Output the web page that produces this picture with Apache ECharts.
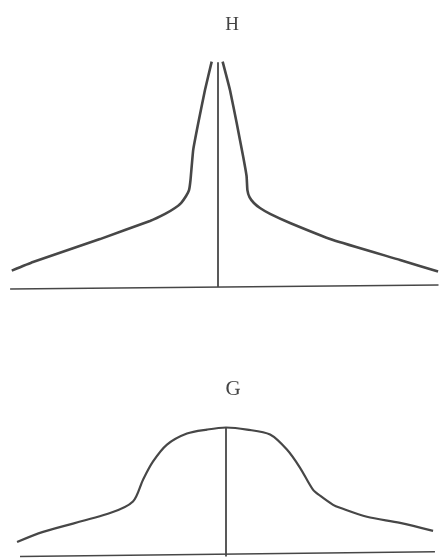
<!DOCTYPE html>
<html>
<head>
<meta charset="utf-8">
<script src="https://cdn.jsdelivr.net/npm/echarts@6/dist/echarts.min.js"></script>
<style>html,body{margin:0;padding:0;background:#fff;}#c{width:440px;height:558px;}</style>
</head>
<body>
<div id="c"></div>
<script>
// Panel titles
var panelLabels = ['H', 'G'];

// Panel H: profile (offset, intensity), left and right wings
var hLeft = [[-9.82,7.2],[-8.81,11.0],[-5.62,21.1],[-3.24,29.1],[-2.52,32.2],[-2.05,34.8],[-1.76,37.0],[-1.52,40.1],[-1.38,42.7],[-1.31,47.1],[-1.18,60.4],[-0.94,72.2],[-0.62,86.8],[-0.30,99.3]];
var hRight = [[0.22,99.3],[0.57,86.8],[0.89,72.2],[1.20,57.4],[1.36,48.9],[1.40,42.7],[1.50,39.6],[1.71,37.0],[2.0,34.8],[2.48,32.2],[3.43,28.2],[5.48,20.7],[8.67,11.9],[10.48,6.8]];
var hBase = [[-9.9,-0.9],[10.5,0.9]];
var hCenter = [[0,0],[0,99]];

// Panel G: profile
var gCurve = [[-9.95,11.3],[-8.71,19.2],[-5.52,33.8],[-4.43,42.8],[-3.95,59.8],[-3.48,73.8],[-2.81,87.1],[-1.86,95.7],[-0.90,98.8],[0,100.4],[1.0,98.8],[2.10,94.9],[2.90,83.2],[3.52,69.2],[4.14,52.0],[4.48,47.3],[5.1,40.2],[5.43,37.9],[6.71,30.9],[8.29,26.2],[9.86,19.9]];
var gBase = [[-9.81,0],[9.95,3.7]];
var gCenter = [[0,0],[0,100]];

var lineCol = '#474747';
function ln(data, xi, w, smooth) {
  return {type:'line', xAxisIndex:xi, yAxisIndex:xi, data:data, showSymbol:false, symbol:'none',
    smooth:smooth, clip:false, silent:true, lineStyle:{color:lineCol, width:w}};
}

var chart = echarts.init(document.getElementById('c'), null, {renderer:'canvas'});
chart.setOption({
  backgroundColor:'#ffffff',
  animation:false,
  title:[
    {text:panelLabels[0], left:227, top:20, textAlign:'center', textVerticalAlign:'middle',
     textStyle:{fontFamily:'Liberation Serif', fontWeight:'normal', fontSize:19, color:'#444'}},
    {text:panelLabels[1], left:228, top:384, textAlign:'center', textVerticalAlign:'middle',
     textStyle:{fontFamily:'Liberation Serif', fontWeight:'normal', fontSize:21, color:'#444'}}
  ],
  grid:[
    {left:8, right:1.5, top:60, bottom:271},
    {left:5.5, right:4, top:428, bottom:1.5}
  ],
  xAxis:[
    {type:'value', gridIndex:0, min:-10, max:10.5, show:false},
    {type:'value', gridIndex:1, min:-10.5, max:10, show:false}
  ],
  yAxis:[
    {type:'value', gridIndex:0, min:0, max:100, show:false},
    {type:'value', gridIndex:1, min:0, max:100, show:false}
  ],
  series:[
    ln(hLeft,0,2.6,0.12),
    ln(hRight,0,2.6,0.12),
    ln(hBase,0,1.6,false),
    ln(hCenter,0,1.8,false),
    ln(gCurve,1,2.2,0.3),
    ln(gBase,1,1.6,false),
    ln(gCenter,1,1.8,false)
  ]
});
</script>
</body>
</html>
